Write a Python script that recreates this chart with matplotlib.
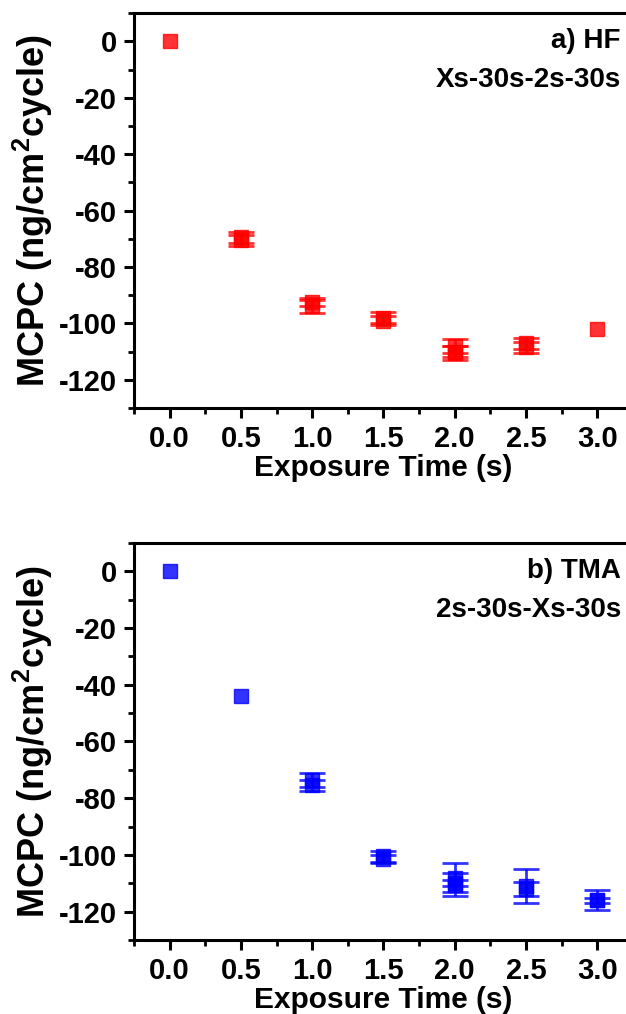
import numpy as np
import matplotlib
matplotlib.use("Agg")
import matplotlib.pyplot as plt
from matplotlib.ticker import MultipleLocator

plt.rcParams['font.family'] = ['Liberation Sans', 'DejaVu Sans']
plt.rcParams['font.weight'] = 'bold'
plt.rcParams['mathtext.fontset'] = 'custom'
plt.rcParams['mathtext.bf'] = 'Liberation Sans:bold'
plt.rcParams['mathtext.rm'] = 'Liberation Sans:bold'
plt.rcParams['axes.unicode_minus'] = False

nan = np.nan

# tiempos de exposicion
time_s = [0.0, 0.5, 1.0, 1.5, 2.0, 2.5, 3.0]

# a) HF - replicas y barras de error
hf_rep1 = [0.0, -69.5, -92.5, -98.0, -108.0, -107.0, -102.0]
hf_err1 = [0.0, 2.0, 1.5, 2.0, 2.5, 2.0, 0.0]
hf_rep2 = [nan, -70.5, -94.0, -99.0, -110.0, -108.5, nan]
hf_err2 = [0.0, 2.0, 2.3, 1.5, 2.0, 2.0, 0.0]
hf_rep3 = [nan, nan, nan, nan, -110.5, nan, nan]
hf_err3 = [0.0, 0.0, 0.0, 0.0, 2.5, 0.0, 0.0]

# b) TMA - replicas y barras de error
tma_rep1 = [0.0, -44.0, -73.5, -100.5, -108.0, -111.0, -116.0]
tma_err1 = [0.0, 0.0, 2.5, 2.0, 5.0, 6.0, 3.5]
tma_rep2 = [nan, nan, -75.5, -101.5, -110.0, -112.0, -116.0]
tma_err2 = [0.0, 0.0, 2.0, 1.5, 1.0, 2.5, 0.8]
tma_rep3 = [nan, nan, nan, nan, -110.5, nan, nan]
tma_err3 = [0.0, 0.0, 0.0, 0.0, 4.0, 0.0, 0.0]

fig = plt.figure(figsize=(6.26, 10.14), dpi=100)
ax_a = fig.add_axes([0.214, 0.5976, 0.797, 0.3895])
ax_b = fig.add_axes([0.214, 0.0730, 0.797, 0.3915])


def draw_panel(ax, reps, errs, color, title, seq):
    for vals, err in zip(reps, errs):
        err = np.array(err)
        # sin barra donde el error es cero
        ax.errorbar(time_s, vals, yerr=np.where(err > 0, err, nan), fmt='s', color=color,
                    ecolor=color, markersize=10, markeredgecolor=color, elinewidth=2.0,
                    capsize=9.5, capthick=2.0, alpha=0.8, linestyle='none')
    ax.set_xlim(-0.25, 3.25)
    ax.set_ylim(-130, 10)
    ax.xaxis.set_major_locator(MultipleLocator(0.5))
    ax.xaxis.set_minor_locator(MultipleLocator(0.25))
    ax.yaxis.set_major_locator(MultipleLocator(20))
    ax.yaxis.set_minor_locator(MultipleLocator(10))
    ax.xaxis.set_major_formatter(plt.FormatStrFormatter('%.1f'))
    for s in ax.spines.values():
        s.set_linewidth(2.2)
    ax.tick_params(which='major', length=7, width=2.2, direction='out', labelsize=21, pad=5)
    ax.tick_params(which='minor', length=4, width=2.0, direction='out')
    ax.tick_params(top=False, right=False, which='both')
    ax.set_xlabel('Exposure Time (s)', fontsize=21.5, fontweight='bold', labelpad=1)
    ax.set_ylabel(r'MCPC (ng/cm$^{\mathbf{2}}$cycle)', fontsize=26, fontweight='bold', labelpad=3)
    ax.text(0.976, 0.93, title, transform=ax.transAxes, ha='right', va='center',
            fontsize=20, fontweight='bold')
    ax.text(0.976, 0.83, seq, transform=ax.transAxes, ha='right', va='center',
            fontsize=20, fontweight='bold')


draw_panel(ax_a, [hf_rep1, hf_rep2, hf_rep3], [hf_err1, hf_err2, hf_err3],
           '#ff0000', 'a) HF', 'Xs-30s-2s-30s')
draw_panel(ax_b, [tma_rep1, tma_rep2, tma_rep3], [tma_err1, tma_err2, tma_err3],
           '#0000ff', 'b) TMA', '2s-30s-Xs-30s')

fig.savefig('out.png', dpi=100)
